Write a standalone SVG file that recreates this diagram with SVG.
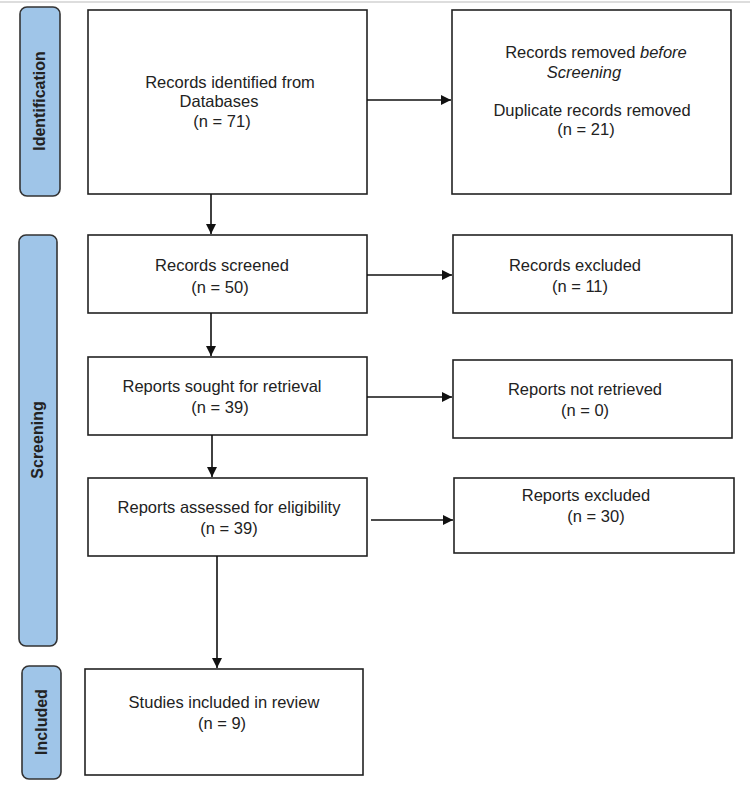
<svg xmlns="http://www.w3.org/2000/svg" width="750" height="792" viewBox="0 0 750 792">
<style>
.box{fill:#fff;stroke:#222;stroke-width:1.6}
.lab{fill:#9fc5e8;stroke:#333;stroke-width:1.6}
.t{font-family:"Liberation Sans",Arial,sans-serif;font-size:16.5px;fill:#222;text-anchor:middle}
.lt{font-family:"Liberation Sans",Arial,sans-serif;font-size:16px;font-weight:bold;fill:#222;text-anchor:middle}
.c{stroke:#111;stroke-width:1.6;fill:none;marker-end:url(#ah)}
</style>
<defs>
<marker id="ah" viewBox="0 0 10 10" refX="10" refY="5" markerWidth="10" markerHeight="10" markerUnits="userSpaceOnUse" orient="auto">
<path d="M0,0 L10,5 L0,10 z" fill="#111"/>
</marker>
</defs>
<rect x="0" y="0" width="750" height="792" fill="#fff"/>
<line x1="0" y1="2" x2="750" y2="2" stroke="#ddd" stroke-width="2"/>
<g id="label-identification">
<rect class="lab" x="20" y="7" width="40" height="189" rx="7"/>
<text class="lt" transform="translate(45,101) rotate(-90)">Identification</text>
</g>
<g id="label-screening">
<rect class="lab" x="19" y="235" width="38" height="411" rx="7"/>
<text class="lt" transform="translate(43,440) rotate(-90)">Screening</text>
</g>
<g id="label-included">
<rect class="lab" x="22" y="666" width="39" height="113" rx="7"/>
<text class="lt" transform="translate(47,722) rotate(-90)">Included</text>
</g>
<g id="records-identified">
<rect class="box" x="88" y="10" width="279" height="184"/>
<text class="t" x="230" y="88">Records identified from</text>
<text class="t" x="219" y="107">Databases</text>
<text class="t" x="222" y="127">(n = 71)</text>
</g>
<g id="records-removed">
<rect class="box" x="452" y="10" width="279" height="184"/>
<text class="t" x="596" y="58">Records removed <tspan font-style="italic">before</tspan></text>
<text class="t" x="584" y="78" font-style="italic">Screening</text>
<text class="t" x="592" y="116">Duplicate records removed</text>
<text class="t" x="586" y="135">(n = 21)</text>
</g>
<g id="records-screened">
<rect class="box" x="88" y="235" width="279" height="78"/>
<text class="t" x="222" y="271">Records screened</text>
<text class="t" x="220" y="293">(n = 50)</text>
</g>
<g id="records-excluded">
<rect class="box" x="453" y="235" width="279" height="78"/>
<text class="t" x="575" y="271">Records excluded</text>
<text class="t" x="580" y="292">(n = 11)</text>
</g>
<g id="reports-sought">
<rect class="box" x="88" y="357" width="279" height="78"/>
<text class="t" x="222" y="392">Reports sought for retrieval</text>
<text class="t" x="220" y="413">(n = 39)</text>
</g>
<g id="reports-not-retrieved">
<rect class="box" x="453" y="360" width="279" height="78"/>
<text class="t" x="585" y="395">Reports not retrieved</text>
<text class="t" x="585" y="416">(n = 0)</text>
</g>
<g id="reports-assessed">
<rect class="box" x="88" y="478" width="279" height="78"/>
<text class="t" x="229" y="513">Reports assessed for eligibility</text>
<text class="t" x="229" y="534">(n = 39)</text>
</g>
<g id="reports-excluded">
<rect class="box" x="454" y="478" width="280" height="75"/>
<text class="t" x="586" y="501">Reports excluded</text>
<text class="t" x="596" y="522">(n = 30)</text>
</g>
<g id="studies-included">
<rect class="box" x="85" y="669" width="278" height="106"/>
<text class="t" x="224" y="708">Studies included in review</text>
<text class="t" x="222" y="729">(n = 9)</text>
</g>
<g id="connectors">
<line class="c" x1="367" y1="100" x2="451" y2="100"/>
<line class="c" x1="211" y1="194" x2="211" y2="234"/>
<line class="c" x1="367" y1="275" x2="452" y2="275"/>
<line class="c" x1="211" y1="313" x2="211" y2="356"/>
<line class="c" x1="367" y1="397" x2="452" y2="397"/>
<line class="c" x1="212" y1="435" x2="212" y2="477"/>
<line class="c" x1="371" y1="520" x2="453" y2="520"/>
<line class="c" x1="217" y1="556" x2="217" y2="668"/>
</g>
</svg>
